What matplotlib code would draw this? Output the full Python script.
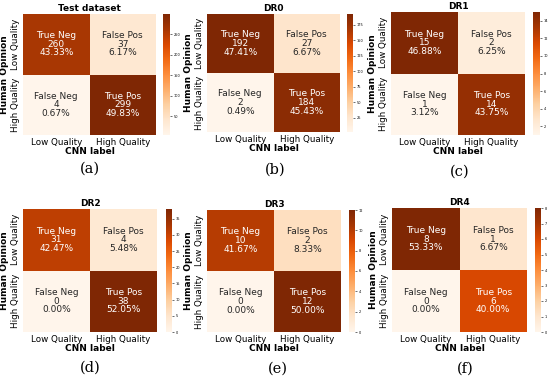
import numpy as np
import matplotlib
matplotlib.use("Agg")
import matplotlib.pyplot as plt
import seaborn as sns

titles = ["Test dataset", "DR0", "DR1", "DR2", "DR3", "DR4"]
captions = ["(a)", "(b)", "(c)", "(d)", "(e)", "(f)"]
# [TN, FP, FN, TP]
counts = [
    [260, 37, 4, 299],
    [192, 27, 2, 184],
    [15, 2, 1, 14],
    [31, 4, 0, 38],
    [10, 2, 0, 12],
    [8, 1, 0, 6],
]
cell_names = ["True Neg", "False Pos", "False Neg", "True Pos"]
tick_labels = ["Low Quality", "High Quality"]
xlabel = "CNN label"
ylabel = "Human Opinion"

W, H = 550, 379
fig = plt.figure(figsize=(W / 100, H / 100), dpi=100)

def px(x0, y0, x1, y1):
    return [x0 / W, 1 - y1 / H, (x1 - x0) / W, (y1 - y0) / H]

heat_boxes = [
    (23, 14, 156, 135), (207, 14, 340, 132), (391, 12, 525, 135),
    (23, 209, 157, 332), (207, 210, 341, 332), (392, 208, 527, 332),
]
cbar_boxes = [
    (163, 14, 170, 135), (347, 14, 353, 132), (533, 12, 540, 135),
    (166, 209, 172, 332), (349, 210, 355, 332), (535, 208, 541, 332),
]
cap_pos = [(90, 169), (275, 170), (460, 172), (90, 368), (278, 369), (465, 369)]

for i in range(6):
    c = np.array(counts[i]).reshape(2, 2)
    total = c.sum()
    labels = np.array([f"{cell_names[k]}\n{counts[i][k]}\n{counts[i][k] / total:.2%}"
                       for k in range(4)]).reshape(2, 2)
    ax = fig.add_axes(px(*heat_boxes[i]))
    cax = fig.add_axes(px(*cbar_boxes[i]))
    sns.heatmap(c, annot=labels, fmt="", cmap="Oranges", ax=ax, cbar_ax=cax,
                annot_kws={"fontsize": 6.5, "linespacing": 0.95},
                xticklabels=tick_labels, yticklabels=tick_labels)
    ax.set_title(titles[i], fontsize=6.5, fontweight="bold", pad=2)
    ax.set_xlabel(xlabel, fontsize=6.5, fontweight="bold", labelpad=0)
    ax.set_ylabel(ylabel, fontsize=6.5, fontweight="bold", labelpad=1)
    ax.tick_params(axis="both", labelsize=6.3, length=0, pad=2.5)
    ax.set_xticklabels(tick_labels, rotation=0, ha="center")
    ax.set_yticklabels(tick_labels, rotation=90, va="center")
    cax.tick_params(labelsize=2.5, length=1.5, width=0.4, pad=1)
    fig.text(cap_pos[i][0] / W, 1 - cap_pos[i][1] / H, captions[i],
             fontsize=10.5, family="DejaVu Serif", ha="center", va="center")

fig.savefig("out.png", dpi=100)
